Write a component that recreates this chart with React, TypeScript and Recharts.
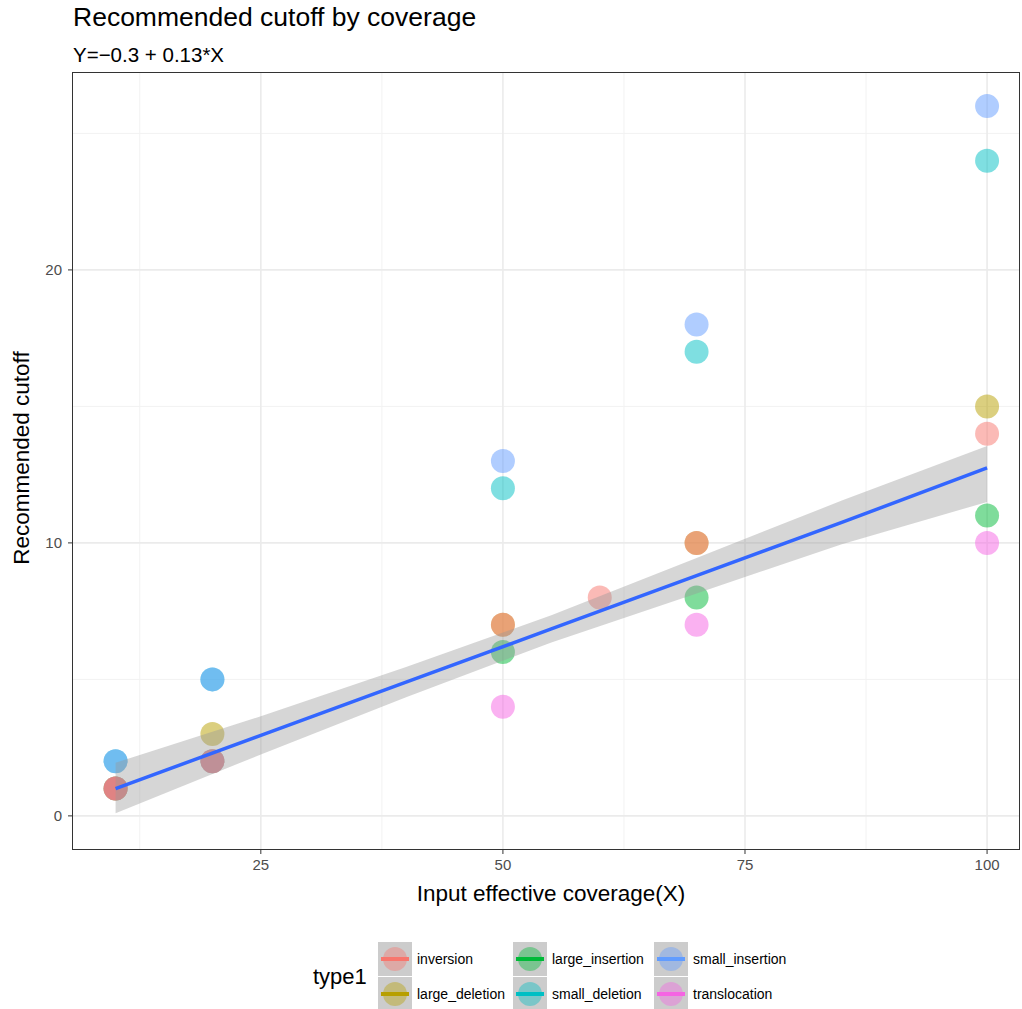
import React from "react";
import {
  ComposedChart,
  Scatter,
  Line,
  Area,
  XAxis,
  YAxis,
  CartesianGrid,
} from "recharts";

// points per type1 group (coverage, cutoff)
const inversionX = [10, 20, 50, 60, 70, 100];
const inversionY = [1, 2, 7, 8, 10, 14];
const largeDeletionX = [10, 20, 50, 70, 100];
const largeDeletionY = [1, 3, 7, 10, 15];
const largeInsertionX = [10, 20, 50, 70, 100];
const largeInsertionY = [1, 2, 6, 8, 11];
const smallDeletionX = [10, 20, 50, 70, 100];
const smallDeletionY = [2, 5, 12, 17, 24];
const smallInsertionX = [10, 20, 50, 70, 100];
const smallInsertionY = [2, 5, 13, 18, 26];
const translocationX = [10, 20, 50, 70, 100];
const translocationY = [1, 2, 4, 7, 10];

// fitted line and its confidence band
const fitX = [10, 25, 40, 55, 70, 85, 100];
const fitY = [1.0, 2.95, 4.9, 6.85, 8.8, 10.75, 12.75];
const fitLow = [0.1, 2.25, 4.35, 6.35, 8.15, 9.95, 11.5];
const fitHigh = [1.95, 3.65, 5.45, 7.35, 9.45, 11.55, 13.55];

const xTicks = [25, 50, 75, 100];
const xMinor = [12.5, 37.5, 62.5, 87.5];
const yTicks = [0, 10, 20];
const yMinor = [5, 15, 25];

// legend order
const groups = [
  { name: "inversion", color: "#F8766D", xs: inversionX, ys: inversionY },
  { name: "large_deletion", color: "#B79F00", xs: largeDeletionX, ys: largeDeletionY },
  { name: "large_insertion", color: "#00BA38", xs: largeInsertionX, ys: largeInsertionY },
  { name: "small_deletion", color: "#00BFC4", xs: smallDeletionX, ys: smallDeletionY },
  { name: "small_insertion", color: "#619CFF", xs: smallInsertionX, ys: smallInsertionY },
  { name: "translocation", color: "#F564E3", xs: translocationX, ys: translocationY },
];
// bottom to top when drawing points
const drawOrder = [
  "large_insertion",
  "large_deletion",
  "small_deletion",
  "small_insertion",
  "translocation",
  "inversion",
];

const fitRows = fitX.map((x, i) => ({
  x,
  fit: fitY[i],
  band: [fitLow[i], fitHigh[i]],
}));

const FONT = "'Liberation Sans', Arial, sans-serif";
const W = 1022;
const H = 1009;
const MARGIN = { top: 72, right: 2, bottom: 129, left: 0 };
const X_DOMAIN = [5.5, 103.4];
const Y_DOMAIN = [-1.25, 27.25];

function Dot(color: string) {
  return (p: any) => (
    <circle cx={p.cx} cy={p.cy} r={12} fill={color} fillOpacity={0.5} />
  );
}

function LegendKey({ color }: { color: string }) {
  return (
    <svg width={34} height={34} style={{ display: "block" }}>
      <rect x={0} y={0} width={34} height={34} fill="#CCCCCC" />
      <circle cx={17} cy={17} r={12} fill={color} fillOpacity={0.4} />
      <line x1={3} x2={31} y1={17} y2={17} stroke={color} strokeWidth={4} />
    </svg>
  );
}

export default function App() {
  const legendCols = [378, 513, 654];
  const legendRows = [942, 977];
  const tickStyle = { fill: "#4D4D4D", fontSize: 15, fontFamily: FONT };
  return (
    <div
      style={{
        position: "absolute",
        left: 0,
        top: 0,
        width: W,
        height: H,
        background: "#fff",
        overflow: "hidden",
        fontFamily: FONT,
      }}
    >
      <div style={{ position: "absolute", left: 73, top: 2, fontSize: 26.5, color: "#000", whiteSpace: "nowrap" }}>
        Recommended cutoff by coverage
      </div>
      <div style={{ position: "absolute", left: 73, top: 43, fontSize: 20.5, color: "#000", whiteSpace: "nowrap" }}>
        Y=−0.3 + 0.13*X
      </div>

      {/* grid, axes and points */}
      <ComposedChart
        width={W}
        height={H}
        margin={MARGIN}
        style={{ position: "absolute", left: 0, top: 0 }}
      >
        <CartesianGrid
          stroke="#F2F2F2"
          strokeWidth={1}
          horizontalValues={yMinor}
          verticalValues={xMinor}
        />
        <CartesianGrid
          stroke="#EBEBEB"
          strokeWidth={1.6}
          horizontalValues={yTicks}
          verticalValues={xTicks}
        />
        <XAxis
          dataKey="x"
          type="number"
          domain={X_DOMAIN}
          ticks={xTicks}
          allowDataOverflow
          height={30}
          tickSize={4}
          tickMargin={5}
          axisLine={false}
          tickLine={{ stroke: "#333" }}
          tick={tickStyle}
        />
        <YAxis
          type="number"
          domain={Y_DOMAIN}
          ticks={yTicks}
          allowDataOverflow
          width={72}
          tickSize={4}
          tickMargin={6}
          axisLine={false}
          tickLine={{ stroke: "#333" }}
          tick={tickStyle}
        />
        {drawOrder.map((name) => {
          const g = groups.find((s) => s.name === name)!;
          return (
            <Scatter
              key={g.name}
              name={g.name}
              data={g.xs.map((x, i) => ({ x, y: g.ys[i] }))}
              dataKey="y"
              shape={Dot(g.color)}
              isAnimationActive={false}
            />
          );
        })}
      </ComposedChart>

      {/* smoother layer drawn over the points */}
      <ComposedChart
        width={W}
        height={H}
        data={fitRows}
        margin={MARGIN}
        style={{ position: "absolute", left: 0, top: 0 }}
      >
        <XAxis
          dataKey="x"
          type="number"
          domain={X_DOMAIN}
          ticks={xTicks}
          allowDataOverflow
          height={30}
          axisLine={false}
          tickLine={false}
          tick={false}
        />
        <YAxis
          type="number"
          domain={Y_DOMAIN}
          ticks={yTicks}
          allowDataOverflow
          width={72}
          axisLine={false}
          tickLine={false}
          tick={false}
        />
        <Area
          dataKey="band"
          type="linear"
          stroke="none"
          fill="#999999"
          fillOpacity={0.4}
          isAnimationActive={false}
          activeDot={false}
        />
        <Line
          dataKey="fit"
          type="linear"
          stroke="#3366FF"
          strokeWidth={3.5}
          dot={false}
          activeDot={false}
          isAnimationActive={false}
        />
      </ComposedChart>

      {/* panel border */}
      <div
        style={{
          position: "absolute",
          left: 72,
          top: 72,
          width: 948,
          height: 778,
          border: "1px solid #333",
          boxSizing: "border-box",
          pointerEvents: "none",
        }}
      />

      <div
        style={{
          position: "absolute",
          left: 551,
          top: 881,
          fontSize: 22.5,
          color: "#000",
          whiteSpace: "nowrap",
          transform: "translateX(-50%)",
        }}
      >
        Input effective coverage(X)
      </div>
      <div
        style={{
          position: "absolute",
          left: 22,
          top: 458,
          fontSize: 22.5,
          color: "#000",
          whiteSpace: "nowrap",
          transform: "translate(-50%, -50%) rotate(-90deg)",
        }}
      >
        Recommended cutoff
      </div>

      {/* legend */}
      <div style={{ position: "absolute", left: 313, top: 964, fontSize: 22, color: "#000" }}>
        type1
      </div>
      {groups.map((g, i) => {
        const col = Math.floor(i / 2);
        const row = i % 2;
        return (
          <div
            key={g.name}
            style={{
              position: "absolute",
              left: legendCols[col],
              top: legendRows[row],
              display: "flex",
              alignItems: "center",
              gap: 5,
            }}
          >
            <LegendKey color={g.color} />
            <span style={{ fontSize: 14, color: "#000" }}>{g.name}</span>
          </div>
        );
      })}
    </div>
  );
}
